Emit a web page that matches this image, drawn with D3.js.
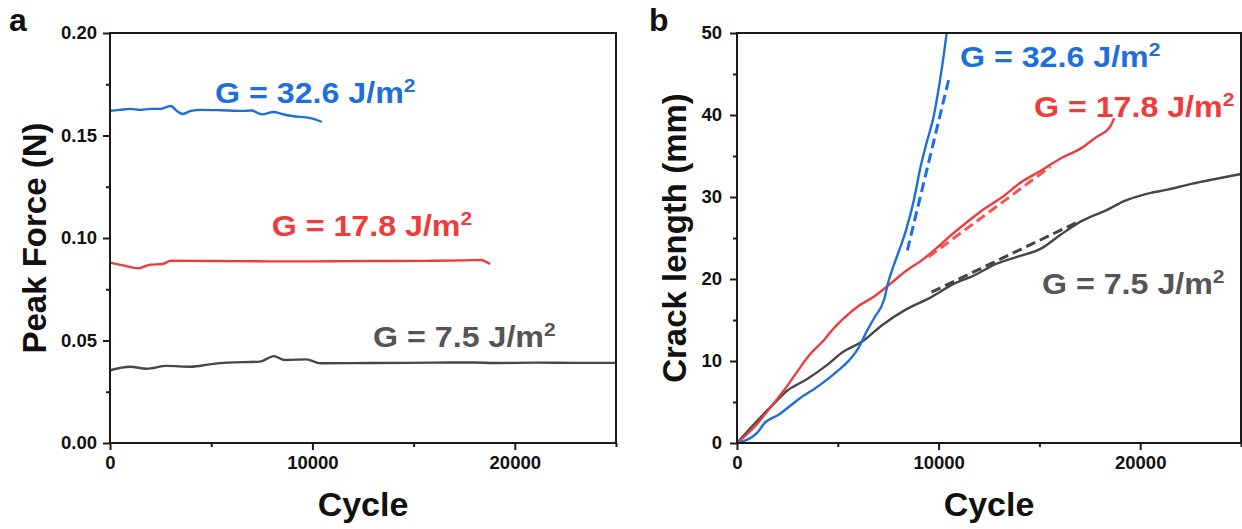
<!DOCTYPE html>
<html>
<head>
<meta charset="utf-8">
<script src="https://cdn.jsdelivr.net/npm/d3@7"></script>
<style>
  body { margin: 0; background: #fff; }
  text { font-family: "Liberation Sans", Arial, sans-serif; font-weight: bold; }
</style>
</head>
<body>
<div id="chart"></div>
<script>
// Panel a: peak force (N) vs cycle, [cycle, force]
var forceBlue = [[0,0.162],[500,0.1625],[1000,0.163],[1500,0.1625],[2000,0.163],[2500,0.163],[3000,0.1644],
  [3300,0.162],[3600,0.1605],[4000,0.162],[4500,0.1625],[5500,0.1623],[6500,0.162],[7000,0.1622],
  [7500,0.1603],[8100,0.1615],[8500,0.1605],[9000,0.1595],[9900,0.1585],[10460,0.1567]];
var forceRed = [[0,0.088],[700,0.0865],[1400,0.0852],[2000,0.087],[2600,0.0873],[3000,0.0889],[5000,0.0888],
  [8000,0.0886],[10000,0.0886],[12000,0.0887],[14000,0.0888],[16000,0.0889],[17500,0.0891],[18300,0.0893],[18780,0.0873]];
var forceGray = [[0,0.0355],[1000,0.0372],[1800,0.0362],[2800,0.0376],[4000,0.0372],[5000,0.0385],[5800,0.0392],
  [7400,0.0397],[8100,0.0424],[8600,0.0405],[9700,0.0408],[10400,0.0389],[13000,0.039],[16000,0.0392],
  [18000,0.0393],[19000,0.039],[21000,0.0392],[23000,0.0391],[25000,0.0391]];

// Panel b: crack length (mm) vs cycle, [cycle, length]
var crackBlue = [[0,0],[1020,1.3],[1320,2.3],[2100,3.5],[3090,5.4],[4070,7.0],[4850,8.5],[5640,10.3],[6030,11.6],
  [6430,13.6],[6820,15.3],[7310,17.6],[7480,19.4],[7750,21.5],[8000,23.2],[8390,26.0],[8780,29.7],[9080,33.4],
  [9370,36.3],[9770,40.0],[10060,44.1],[10260,47.4],[10400,50]];
var crackRed = [[0,0],[920,2.1],[1710,4.5],[2500,7.0],[2990,8.7],[3580,10.7],[4260,12.4],[4660,13.6],[5250,15.1],
  [6030,16.7],[6820,17.9],[7600,19.4],[8390,21.0],[9180,22.3],[9960,23.9],[10550,25.2],[11340,26.8],
  [12120,28.3],[13110,29.9],[14090,31.8],[15070,33.2],[16050,34.7],[17040,35.9],[17820,37.3],[18510,38.6],[18710,39.6]];
var crackGray = [[0,0],[920,2.5],[1710,4.5],[2500,6.4],[3480,7.8],[4460,9.5],[5250,11.1],[6230,12.4],[7210,14.4],
  [8390,16.3],[9570,17.7],[10750,19.4],[11730,20.4],[12910,21.9],[13890,22.7],[15070,23.7],[16050,25.4],
  [17040,27.0],[18410,28.5],[19200,29.5],[20180,30.3],[21360,30.9],[22540,31.6],[23720,32.2],[25000,32.8]];

// linear fits (dashed)
var fitBlue = [[8450,23.5],[10500,44.3]];
var fitRed = [[9500,22.7],[15550,33.7]];
var fitGray = [[9650,18.4],[17030,27.1]];

var xTicks = [0, 10000, 20000];
var xMinor = [5000, 15000, 25000];
var forceTicks = [0, 0.05, 0.10, 0.15, 0.20];
var forceMinor = [0.025, 0.075, 0.125, 0.175];
var crackTicks = [0, 10, 20, 30, 40, 50];
var crackMinor = [5, 15, 25, 35, 45];

var blue = "#1f6fdb", red = "#ee3b3b", gray = "#474747";

var svg = d3.select("#chart").append("svg")
    .attr("width", 1242)
    .attr("height", 529);

function draw(o) {
    var x = d3.scaleLinear().domain([0, 25000]).range([o.left, o.right]);
    var y = d3.scaleLinear().domain(o.yDomain).range([443, 33]);
    var g = svg.append("g");

    // data lines
    var line = d3.line().curve(d3.curveMonotoneX)
        .x(function(d) { return x(d[0]) }).y(function(d) { return y(d[1]) });
    o.series.forEach(function(s) {
        g.append("path")
            .attr("d", line(s.values))
            .attr("fill", "none")
            .attr("stroke", s.color)
            .attr("stroke-width", s.dash ? 3 : 2.4)
            .attr("stroke-dasharray", s.dash ? "10,5" : null)
            .attr("stroke-linejoin", "round");
    });

    // frame
    g.append("rect")
        .attr("x", o.left).attr("y", 33)
        .attr("width", o.right - o.left).attr("height", 410)
        .attr("fill", "none").attr("stroke", "#1a1a1a").attr("stroke-width", 2);

    // axes: major + minor
    g.append("g").attr("transform", "translate(0,443)")
        .call(d3.axisBottom(x).tickValues(xTicks).tickSize(7).tickPadding(6).tickFormat(d3.format("d")));
    g.append("g").attr("transform", "translate(0,443)")
        .call(d3.axisBottom(x).tickValues(xMinor).tickSize(4).tickFormat(""));
    g.append("g").attr("transform", "translate(" + o.left + ",0)")
        .call(d3.axisLeft(y).tickValues(o.yTicks).tickSize(7).tickPadding(o.yPad).tickFormat(o.yFormat));
    g.append("g").attr("transform", "translate(" + o.left + ",0)")
        .call(d3.axisLeft(y).tickValues(o.yMinor).tickSize(4).tickFormat(""));

    g.selectAll(".domain").remove();
    g.selectAll(".tick line").attr("stroke", "#1a1a1a").attr("stroke-width", 2);
    g.selectAll(".tick text").attr("fill", "#111").style("font-size", "18.5px");

    // axis titles
    g.append("text")
        .attr("x", (o.left + o.right) / 2).attr("y", 516)
        .attr("text-anchor", "middle").style("font-size", "34px")
        .attr("fill", "#111").text("Cycle");
    g.append("text")
        .attr("transform", "translate(" + o.titleX + ",238) rotate(-90)")
        .attr("text-anchor", "middle").style("font-size", "33px")
        .attr("fill", "#111").text(o.yTitle);

    // panel letter
    g.append("text").attr("x", o.letterX).attr("y", 31)
        .style("font-size", "32px").attr("fill", "#111").text(o.letter);

    // G labels (slightly wide lettering)
    o.labels.forEach(function(l) {
        var t = g.append("text")
            .attr("transform", "translate(" + x(l.at[0]) + "," + y(l.at[1]) + ") scale(1.11,1)")
            .style("font-size", "29px").attr("fill", l.color)
            .text(l.text);
        t.append("tspan").attr("dy", -11).style("font-size", "19px").text("2");
    });
}

draw({
    left: 110, right: 616, yDomain: [0, 0.2],
    yTicks: forceTicks, yMinor: forceMinor, yFormat: d3.format(".2f"), yPad: 6,
    yTitle: "Peak Force (N)", titleX: 46, letter: "a", letterX: 9,
    series: [
        { values: forceBlue, color: blue },
        { values: forceRed, color: red },
        { values: forceGray, color: gray }
    ],
    labels: [
        { text: "G = 32.6 J/m", at: [5190, 0.166], color: blue },
        { text: "G = 17.8 J/m", at: [7990, 0.101], color: red },
        { text: "G = 7.5 J/m", at: [13000, 0.047], color: "#555" }
    ]
});

draw({
    left: 737, right: 1241, yDomain: [0, 50],
    yTicks: crackTicks, yMinor: crackMinor, yFormat: d3.format("d"), yPad: 8,
    yTitle: "Crack length (mm)", titleX: 686, letter: "b", letterX: 649,
    series: [
        { values: crackGray, color: gray },
        { values: crackRed, color: red },
        { values: crackBlue, color: blue },
        { values: fitBlue, color: "#1a6cf0", dash: true },
        { values: fitRed, color: "#f25555", dash: true },
        { values: fitGray, color: "#444", dash: true }
    ],
    labels: [
        { text: "G = 32.6 J/m", at: [11060, 45.8], color: blue },
        { text: "G = 17.8 J/m", at: [14730, 39.8], color: red },
        { text: "G = 7.5 J/m", at: [15130, 18.2], color: "#555" }
    ]
});
</script>
</body>
</html>
